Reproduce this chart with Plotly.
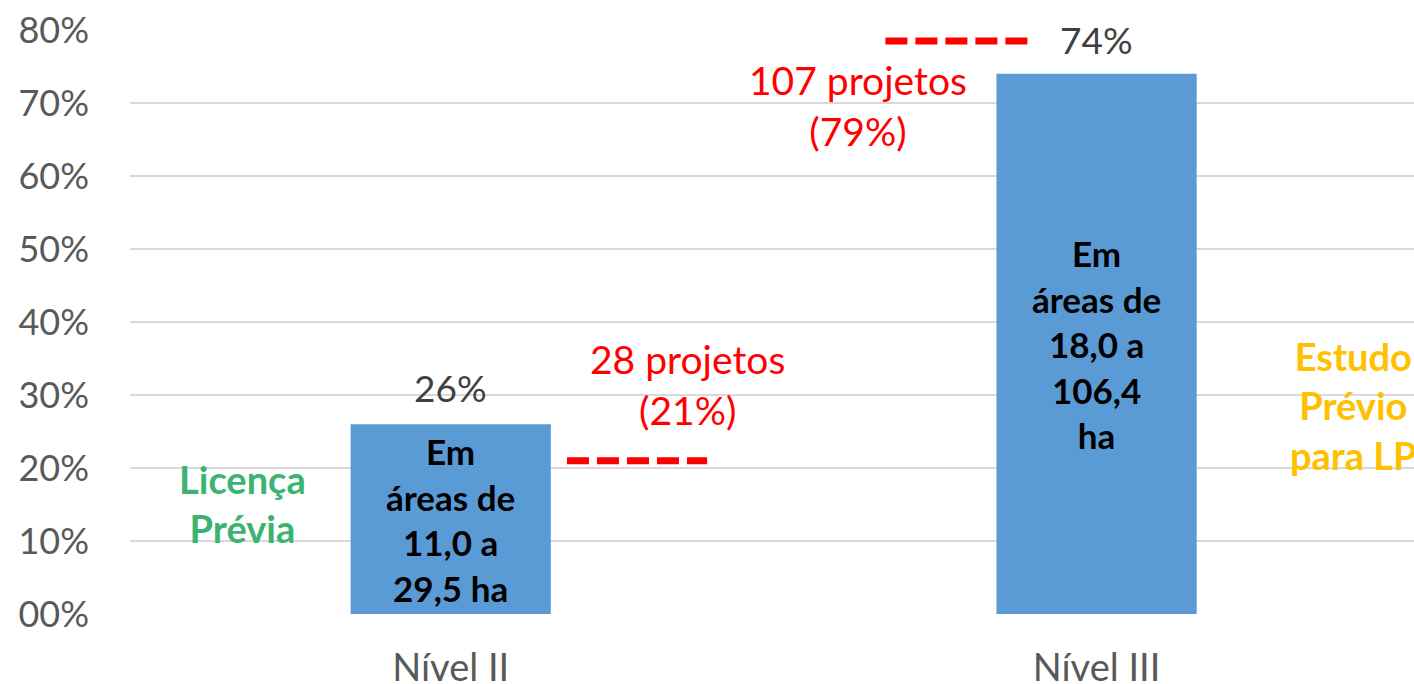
import plotly.graph_objects as go

categories = ["Nível II", "Nível III"]
values = [0.26, 0.74]
value_labels = ["26%", "74%"]
bar_texts = ["Em<br>áreas de<br>11,0 a<br>29,5 ha", "Em<br>áreas de<br>18,0 a<br>106,4<br>ha"]
project_labels = ["28 projetos<br>(21%)", "107 projetos<br>(79%)"]
project_levels = [0.21, 0.785]
y_ticks = [0, 0.1, 0.2, 0.3, 0.4, 0.5, 0.6, 0.7, 0.8]
y_tick_labels = ["00%", "10%", "20%", "30%", "40%", "50%", "60%", "70%", "80%"]
side_labels = ["Licença<br>Prévia", "Estudo<br>Prévio<br>para LP"]

FONT = "Lato, 'Open Sans', sans-serif"

fig = go.Figure()
fig.add_trace(go.Bar(
    x=categories, y=values, width=0.31,
    marker=dict(color="#5B9BD5", line=dict(width=0)),
    hoverinfo="skip",
))

ann = []
for i, (v, lab) in enumerate(zip(values, value_labels)):
    ann.append(dict(x=i, y=v, text=lab, showarrow=False, yshift=[37, 34][i],
                    font=dict(family=FONT, size=37, color="#404040")))
    ann.append(dict(x=i, y=v / 2, text=bar_texts[i], showarrow=False,
                    font=dict(family=FONT, size=35, color="#000000", weight="bold")))

dash_x = [(0.18, 0.397), (0.673, 0.896)]
label_pos = [(0.366, 0.315), (0.63, 0.697)]
shapes = []
for (x0, x1), lvl, lab, (lx, ly) in zip(dash_x, project_levels, project_labels, label_pos):
    shapes.append(dict(type="line", xref="x", yref="y", x0=x0, x1=x1, y0=lvl, y1=lvl,
                       line=dict(color="#FF0000", width=7, dash="22px,8px")))
    ann.append(dict(x=lx, y=ly, text=lab, showarrow=False,
                    font=dict(family=FONT, size=39, color="#FF0000")))

ann.append(dict(x=-0.322, y=0.152, text=side_labels[0], showarrow=False,
                font=dict(family=FONT, size=38, color="#3CB371", weight="bold")))
ann.append(dict(x=1.398, y=0.285, text=side_labels[1], showarrow=False,
                font=dict(family=FONT, size=38, color="#FFC000", weight="bold")))

fig.update_layout(
    width=1414, height=684,
    margin=dict(l=130, r=0, t=30, b=70),
    plot_bgcolor="white", paper_bgcolor="white",
    showlegend=False,
    annotations=ann, shapes=shapes,
    xaxis=dict(type="category", range=[-0.4966, 1.4915], showgrid=False, showline=False,
               zeroline=False, ticks="", ticklabelstandoff=28, automargin=False,
               tickfont=dict(family=FONT, size=38, color="#595959")),
    yaxis=dict(range=[0, 0.8], tickvals=y_ticks, ticktext=y_tick_labels,
               showgrid=True, gridcolor="#D9D9D9", gridwidth=1.5, zeroline=False,
               showline=False, ticks="", ticklabelstandoff=40, automargin=False,
               tickfont=dict(family=FONT, size=36, color="#595959")),
)

fig.write_html(
    "out.html",
    config={"displayModeBar": False},
    post_script="document.body.style.margin='0';document.body.style.overflow='hidden';",
)
